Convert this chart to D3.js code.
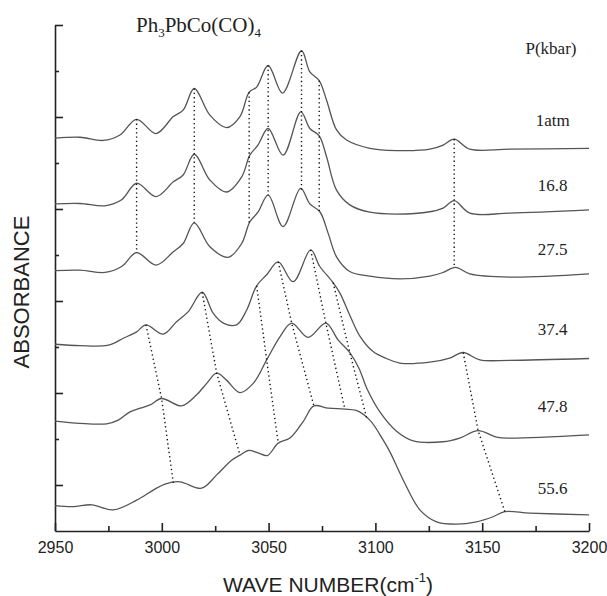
<!DOCTYPE html>
<html>
<head>
<meta charset="utf-8">
<script src="https://cdn.jsdelivr.net/npm/d3@7"></script>
<style>
  body { margin: 0; background: #fff; }
</style>
</head>
<body>
<div id="chart"></div>
<script>
// Spectra: [wave number (cm-1), absorbance incl. vertical offset, in y tick units]
const spec1atm = [[2950, 8.54], [2961.7, 8.56], [2972.6, 8.49], [2980.4, 8.61], [2988.2, 8.95], [2997.3, 8.64],
    [3005.4, 9.01], [3010.0, 9.15], [3015.2, 9.62], [3022.5, 9.04], [3030.3, 8.77], [3036.6, 9.01], [3040.9, 9.54],
    [3044.4, 9.65], [3049.8, 10.12], [3056.5, 9.52], [3065.4, 10.44], [3069.3, 9.98], [3073.7, 9.79], [3077.1, 9.37],
    [3081.8, 8.72], [3086.5, 8.50], [3097.4, 8.32], [3109.9, 8.27], [3125.5, 8.30], [3131.7, 8.39], [3136.9, 8.52],
    [3144.2, 8.30], [3162.9, 8.30], [3200, 8.32]];
const spec168 = [[2950, 7.11], [2961.7, 7.12], [2973.4, 7.07], [2981.2, 7.20], [2988.2, 7.56], [2997.3, 7.27],
    [3005.4, 7.59], [3010.0, 7.74], [3015.2, 8.19], [3022.5, 7.63], [3030.3, 7.37], [3037.4, 7.70], [3041.2, 8.17],
    [3045.0, 8.39], [3049.8, 8.75], [3056.8, 8.17], [3065.1, 9.11], [3069.3, 8.75], [3073.7, 8.59], [3077.1, 8.14],
    [3081.8, 7.41], [3088.0, 7.09], [3097.4, 6.93], [3109.9, 6.89], [3125.5, 6.94], [3131.7, 7.02], [3136.9, 7.18],
    [3144.2, 6.91], [3162.9, 6.91], [3200, 6.98]];
const spec275 = [[2950, 5.66], [2961.7, 5.67], [2973.4, 5.62], [2981.2, 5.75], [2988.2, 6.05], [2997.3, 5.78],
    [3005.4, 6.07], [3010.0, 6.25], [3015.2, 6.70], [3022.5, 6.18], [3031.1, 5.95], [3037.4, 6.25], [3041.2, 6.72],
    [3045.0, 6.93], [3049.8, 7.30], [3056.8, 6.62], [3065.0, 7.45], [3069.3, 7.11], [3074.0, 6.94], [3077.9, 6.47],
    [3081.8, 5.96], [3088.0, 5.64], [3097.4, 5.54], [3111.4, 5.48], [3125.5, 5.54], [3131.7, 5.62], [3137.5, 5.73],
    [3144.2, 5.59], [3162.9, 5.52], [3200, 5.59]];
const spec374 = [[2950, 4.06], [2961.7, 4.03], [2974.9, 4.04], [2982.0, 4.19], [2988.2, 4.33], [2992.6, 4.48],
    [3000.7, 4.28], [3006.9, 4.55], [3012.4, 4.77], [3018.9, 5.19], [3024.1, 4.73], [3028.8, 4.52], [3035.0, 4.48],
    [3039.7, 4.80], [3044.4, 5.33], [3049.1, 5.57], [3054.5, 5.85], [3061.5, 5.42], [3069.7, 6.11], [3074.0, 5.75],
    [3080.2, 5.40], [3083.4, 5.17], [3088.1, 4.68], [3092.8, 4.23], [3098.9, 3.90], [3105.2, 3.75], [3111.4, 3.65],
    [3125.5, 3.67], [3134.8, 3.76], [3141.1, 3.88], [3148.9, 3.72], [3162.9, 3.71], [3200, 3.75]];
const spec478 = [[2950, 2.39], [2961.7, 2.34], [2974.2, 2.33], [2979.6, 2.41], [2985.1, 2.59], [2989.8, 2.67],
    [2994.5, 2.74], [2999.9, 2.88], [3009.3, 2.72], [3016.3, 2.96], [3021.0, 3.21], [3025.7, 3.43], [3030.3, 3.28],
    [3036.6, 3.01], [3042.8, 3.21], [3049.1, 3.72], [3055.3, 4.22], [3060.8, 4.52], [3068.5, 4.21], [3076.8, 4.52],
    [3082.6, 4.15], [3088.0, 3.88], [3092.3, 3.54], [3095.9, 3.11], [3102.1, 2.59], [3109.9, 2.17], [3117.7, 1.96],
    [3131.7, 1.94], [3139.5, 2.02], [3148.1, 2.18], [3156.7, 2.04], [3162.9, 2.02], [3200, 2.09]];
const spec556 = [[2950, 0.55], [2958.6, 0.53], [2967.2, 0.57], [2977.3, 0.46], [2988.2, 0.67], [2996.0, 0.89],
    [3001.5, 1.02], [3008.5, 1.07], [3018.6, 0.93], [3025.7, 1.22], [3032.7, 1.54], [3036.6, 1.65], [3040.5, 1.75],
    [3045.0, 1.70], [3049.4, 1.64], [3054.5, 1.91], [3060.0, 2.02], [3066.2, 2.38], [3071.2, 2.72], [3077.9, 2.67],
    [3085.7, 2.65], [3091.0, 2.62], [3097.4, 2.41], [3103.6, 1.98], [3106.8, 1.72], [3113.0, 1.11], [3120.8, 0.46],
    [3128.6, 0.20], [3138.0, 0.15], [3147.3, 0.20], [3155.1, 0.31], [3160.6, 0.42], [3172.3, 0.39], [3200, 0.35]];

const spectra = [spec1atm, spec168, spec275, spec374, spec478, spec556];
const pressures = ["1atm", "16.8", "27.5", "37.4", "47.8", "55.6"];
const labelLevels = [8.80, 7.39, 6.00, 4.26, 2.59, 0.80];

// band positions, unshifted up to 27.5 kbar
const fixedBands = [2988.2, 3015.2, 3040.9, 3049.8, 3065.4, 3073.7, 3136.9];
// band positions at 37.4, 47.8, 55.6 kbar
const shiftedBands = [
    [2992.6, 2999.9, 3005.4],
    [3018.9, 3025.7, 3036.6],
    [3044.4, 3049.1, 3054.5],
    [3054.5, 3060.8, 3071.2],
    [3069.7, 3076.8, 3085.7],
    [3080.2, 3088.0, 3095.9],
    [3141.1, 3148.1, 3160.6]
];

const xMajor = [2950, 3000, 3050, 3100, 3150, 3200];
const xMinor = [2975, 3025, 3075, 3125, 3175];
const yMajor = [1, 3, 5, 7, 9, 11];
const yMinor = [2, 4, 6, 8, 10];

const width = 607, height = 596;
const serif = "'Liberation Serif', 'Times New Roman', serif";
const sans = "'Liberation Sans', Arial, sans-serif";

const svg = d3.select("#chart")
    .append("svg")
    .attr("width", width)
    .attr("height", height);

const x = d3.scaleLinear().domain([2950, 3200]).range([55, 589]);
const y = d3.scaleLinear().domain([0, 11]).range([531, 25]);

// Axes (ticks inward)
const gx = svg.append("g").attr("transform", `translate(0,${y(0)})`)
    .call(d3.axisBottom(x).tickValues(xMajor).tickSize(-8).tickSizeOuter(0).tickPadding(11).tickFormat(d3.format("d")));
svg.append("g").attr("transform", `translate(0,${y(0)})`)
    .call(d3.axisBottom(x).tickValues(xMinor).tickSize(-5).tickFormat(""))
    .select(".domain").remove();
svg.append("g").attr("transform", `translate(${x(2950)},0)`)
    .call(d3.axisLeft(y).tickValues(yMajor).tickSize(-8).tickSizeOuter(0).tickFormat(""));
svg.append("g").attr("transform", `translate(${x(2950)},0)`)
    .call(d3.axisLeft(y).tickValues(yMinor).tickSize(-4).tickFormat(""))
    .select(".domain").remove();

svg.selectAll(".domain").attr("stroke", "#222").attr("stroke-width", 1.6);
svg.selectAll(".tick line").attr("stroke", "#222").attr("stroke-width", 1.6);
gx.selectAll("text").attr("font-family", sans).attr("font-size", 16).attr("fill", "#222");

// Spectra
const line = d3.line()
    .x(d => x(d[0]))
    .y(d => y(d[1]))
    .curve(d3.curveCatmullRom.alpha(0.5));

svg.append("g")
    .selectAll("path")
    .data(spectra)
    .join("path")
    .attr("d", line)
    .attr("fill", "none")
    .attr("stroke", "#555")
    .attr("stroke-width", 1.3);

// value of a spectrum at a wave number
function valueAt(spec, w) {
    const i = d3.bisector(d => d[0]).left(spec, w);
    if (i <= 0) return spec[0][1];
    if (i >= spec.length) return spec[spec.length - 1][1];
    const a = spec[i - 1], b = spec[i];
    return a[1] + (w - a[0]) / (b[0] - a[0]) * (b[1] - a[1]);
}

// Dotted band guides
const guides = fixedBands.map(w => [0, 1, 2].map(k => [w, valueAt(spectra[k], w)]))
    .concat(shiftedBands.map(ws => ws.map((w, k) => [w, valueAt(spectra[k + 3], w)])));

svg.append("g")
    .selectAll("path")
    .data(guides)
    .join("path")
    .attr("d", d3.line().x(d => x(d[0])).y(d => y(d[1])))
    .attr("fill", "none")
    .attr("stroke", "#111")
    .attr("stroke-width", 1.4)
    .attr("stroke-dasharray", "1.3,3");

// Pressure labels
svg.append("g")
    .selectAll("text")
    .data(pressures)
    .join("text")
    .attr("x", x(3183))
    .attr("y", (d, i) => y(labelLevels[i]))
    .attr("text-anchor", "middle")
    .attr("font-family", serif)
    .attr("font-size", 17)
    .attr("fill", "#222")
    .text(d => d);

svg.append("text")
    .attr("x", 551)
    .attr("y", 54)
    .attr("text-anchor", "middle")
    .attr("font-family", serif)
    .attr("font-size", 17)
    .attr("fill", "#222")
    .text("P(kbar)");

// Title with subscripts
const title = svg.append("text")
    .attr("x", 136)
    .attr("y", 32)
    .attr("font-family", serif)
    .attr("font-size", 21)
    .attr("fill", "#222");
title.append("tspan").text("Ph");
title.append("tspan").attr("font-size", 13).attr("dy", 5).text("3");
title.append("tspan").attr("dy", -5).text("PbCo(CO)");
title.append("tspan").attr("font-size", 13).attr("dy", 5).text("4");

// Axis titles
const xt = svg.append("text")
    .attr("x", 328)
    .attr("y", 592)
    .attr("text-anchor", "middle")
    .attr("font-family", sans)
    .attr("font-size", 21)
    .attr("fill", "#222");
xt.append("tspan").text("WAVE NUMBER(cm");
xt.append("tspan").attr("font-size", 13).attr("dy", -10).text("-1");
xt.append("tspan").attr("dy", 10).text(")");

svg.append("text")
    .attr("transform", "translate(29,292) rotate(-90)")
    .attr("text-anchor", "middle")
    .attr("font-family", sans)
    .attr("font-size", 22)
    .attr("fill", "#222")
    .text("ABSORBANCE");
</script>
</body>
</html>
